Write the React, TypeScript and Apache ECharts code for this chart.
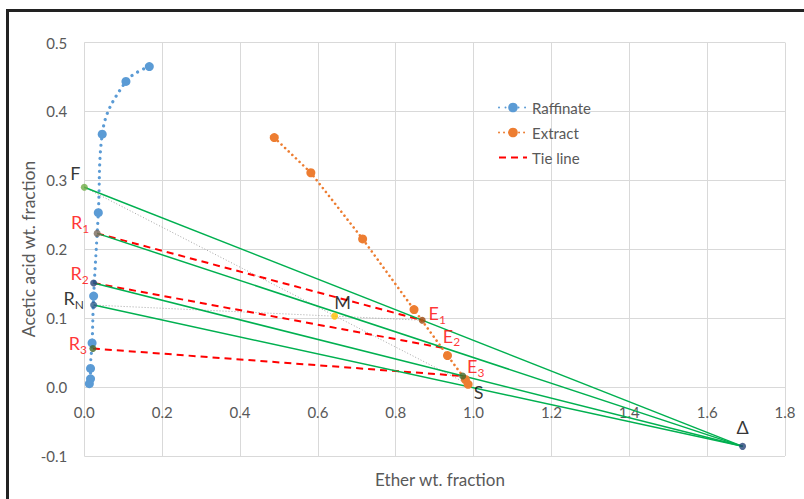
import React, { useEffect, useRef } from "react";
import * as echarts from "echarts";

// ---- Data ----
const xTicks = [0, 0.2, 0.4, 0.6, 0.8, 1.0, 1.2, 1.4, 1.6, 1.8];
const yTicks = [-0.1, 0, 0.1, 0.2, 0.3, 0.4, 0.5];

const raffinateX = [0.167, 0.107, 0.046, 0.036, 0.024, 0.02, 0.016, 0.016, 0.013];
const raffinateY = [0.465, 0.4435, 0.367, 0.253, 0.132, 0.064, 0.027, 0.012, 0.005];

const extractX = [0.488, 0.582, 0.715, 0.847, 0.933, 0.979, 0.986];
const extractY = [0.362, 0.311, 0.215, 0.1125, 0.0457, 0.011, 0.004];

const pointNames = ["F", "R1", "R2", "RN", "R3", "M", "E1", "E2", "E3", "S", "Δ"];
const pointX = [0, 0.033, 0.024, 0.024, 0.022, 0.643, 0.868, 0.92, 0.972, 1.0, 1.691];
const pointY = [0.29, 0.223, 0.151, 0.119, 0.056, 0.103, 0.097, 0.057, 0.016, 0.0, -0.086];

const tieLines = [["R1", "E1"], ["R2", "E2"], ["R3", "E3"]];
const operatingLines = [["F", "Δ"], ["R1", "Δ"], ["R2", "Δ"], ["RN", "Δ"]];
const mixingLines = [["F", "S"], ["RN", "E1"]];

// ---- Styles (not data) ----
const pointStyle: Record<string, { color: string | null; size: number; red: boolean; off: [number, number] }> = {
  F: { color: "#70ad47", size: 7, red: false, off: [-9, -14] },
  R1: { color: "#7a6b5c", size: 7, red: true, off: [-17, -11] },
  R2: { color: "#264478", size: 7, red: true, off: [-14, -10] },
  RN: { color: "#2e5b8f", size: 7, red: false, off: [-20, -7] },
  R3: { color: "#43682b", size: 7, red: true, off: [-15, -5] },
  M: { color: "#ffc000", size: 7, red: false, off: [8, -14] },
  E1: { color: "#9e480e", size: 7, red: true, off: [15, -7] },
  E2: { color: null, size: 0, red: true, off: [9, -12] },
  E3: { color: "#43682b", size: 7, red: true, off: [13, -10] },
  S: { color: null, size: 0, red: false, off: [5, 5] },
  "Δ": { color: "#264478", size: 7, red: false, off: [0, -19] },
};

const FONT = "Lato, 'Open Sans', sans-serif";
const GREY = "#595959";

function pt(name: string): [number, number] {
  const i = pointNames.indexOf(name);
  return [pointX[i], pointY[i]];
}

function labelText(name: string): string {
  const st = pointStyle[name].red ? "r" : "k";
  if (name.length > 1 && name !== "Δ") {
    return `{${st}|${name[0]}}{${st}s|${name.slice(1)}}`;
  }
  return `{${st}|${name}}`;
}

export default function App() {
  const ref = useRef<HTMLDivElement>(null);

  useEffect(() => {
    if (!ref.current) return;
    const chart = echarts.init(ref.current, undefined, { renderer: "svg" });
    const fmt = (v: number) => (Math.abs(v) < 1e-9 ? 0 : v).toFixed(1);

    const series: any[] = [];

    tieLines.forEach(([a, b]) => {
      series.push({
        name: "Tie line",
        type: "line",
        data: [pt(a), pt(b)],
        symbol: "none",
        color: "#ff0000",
        lineStyle: { color: "#ff0000", width: 2, type: [7, 5] },
        z: 3,
      });
    });

    operatingLines.forEach(([a, b], i) => {
      series.push({
        name: "op" + i,
        type: "line",
        data: [pt(a), pt(b)],
        symbol: "none",
        lineStyle: { color: "#00b050", width: 1.5, type: "solid" },
        z: 3,
      });
    });

    mixingLines.forEach(([a, b], i) => {
      series.push({
        name: "mix" + i,
        type: "line",
        data: [pt(a), pt(b)],
        symbol: "none",
        lineStyle: { color: "#a5a5a5", width: 1, type: [1, 2] },
        z: 2,
      });
    });

    series.push({
      name: "Raffinate",
      type: "line",
      data: raffinateX.map((x, i) => [x, raffinateY[i]]),
      smooth: 0.4,
      symbol: "circle",
      symbolSize: 9,
      color: "#5b9bd5",
      itemStyle: { color: "#5b9bd5" },
      lineStyle: { color: "#5b9bd5", width: 3.2, type: [0.01, 6.5], cap: "round" },
      z: 4,
    });

    series.push({
      name: "Extract",
      type: "line",
      data: extractX.map((x, i) => [x, extractY[i]]),
      symbol: "circle",
      symbolSize: 9,
      color: "#ed7d31",
      itemStyle: { color: "#ed7d31" },
      lineStyle: { color: "#ed7d31", width: 2.6, type: [0.01, 5], cap: "round" },
      z: 4,
    });

    series.push({
      name: "points",
      type: "scatter",
      z: 6,
      data: pointNames.map((n, i) => {
        const s = pointStyle[n];
        return {
          value: [pointX[i], pointY[i]],
          symbolSize: s.size,
          itemStyle: { color: s.color || "transparent" },
          label: {
            show: true,
            position: "inside",
            offset: s.off,
            formatter: labelText(n),
          },
        };
      }),
      label: {
        show: true,
        fontFamily: FONT,
        rich: {
          k: { color: "#000", fontSize: 18, lineHeight: 24, fontFamily: FONT },
          r: { color: "#ff0000", fontSize: 18, lineHeight: 24, fontFamily: FONT },
          ks: { color: "#000", fontSize: 12, lineHeight: 10, verticalAlign: "bottom", fontFamily: FONT },
          rs: { color: "#ff0000", fontSize: 12, lineHeight: 10, verticalAlign: "bottom", fontFamily: FONT },
        },
      },
    });

    chart.setOption({
      animation: false,
      textStyle: { fontFamily: FONT },
      grid: { left: 84.3, right: 19, top: 42.5, bottom: 43, containLabel: false },
      legend: {
        orient: "vertical",
        left: 493,
        top: 95,
        itemWidth: 28,
        itemHeight: 12,
        itemGap: 10,
        data: [
          "Raffinate",
          "Extract",
          { name: "Tie line", itemStyle: { opacity: 0 } },
        ],
        textStyle: { color: GREY, fontSize: 15, fontFamily: FONT },
      },
      xAxis: {
        type: "value",
        min: xTicks[0],
        max: xTicks[xTicks.length - 1],
        interval: 0.2,
        axisLine: { show: false, onZero: false },
        axisTick: { show: false },
        axisLabel: { color: GREY, fontSize: 15, margin: -52, formatter: fmt, fontFamily: FONT },
        splitLine: { show: true, lineStyle: { color: "#d9d9d9", width: 1 } },
      },
      yAxis: {
        type: "value",
        min: yTicks[0],
        max: yTicks[yTicks.length - 1],
        interval: 0.1,
        axisLine: { show: false },
        axisTick: { show: false },
        axisLabel: { color: GREY, fontSize: 15, margin: 17, formatter: fmt, fontFamily: FONT },
        splitLine: { show: true, lineStyle: { color: "#d9d9d9", width: 1 } },
      },
      graphic: [
        {
          type: "text",
          x: 440,
          y: 479,
          style: {
            text: "Ether wt. fraction",
            fill: GREY,
            fontSize: 17,
            fontFamily: FONT,
            align: "center",
            verticalAlign: "middle",
          },
        },
        {
          type: "text",
          x: 28,
          y: 249,
          rotation: Math.PI / 2,
          style: {
            text: "Acetic acid wt. fraction",
            fill: GREY,
            fontSize: 17.5,
            fontFamily: FONT,
            align: "center",
            verticalAlign: "middle",
          },
        },
      ],
      series,
    });

    return () => chart.dispose();
  }, []);

  return (
    <div style={{ position: "fixed", left: 0, top: 0, width: 804, height: 499, overflow: "hidden", background: "#fff" }}>
      <div
        style={{
          position: "absolute",
          left: 6,
          top: 9,
          width: 900,
          height: 600,
          borderLeft: "3px solid #222",
          borderTop: "3px solid #222",
        }}
      />
      <div ref={ref} style={{ position: "absolute", left: 0, top: 0, width: 804, height: 499 }} />
    </div>
  );
}
